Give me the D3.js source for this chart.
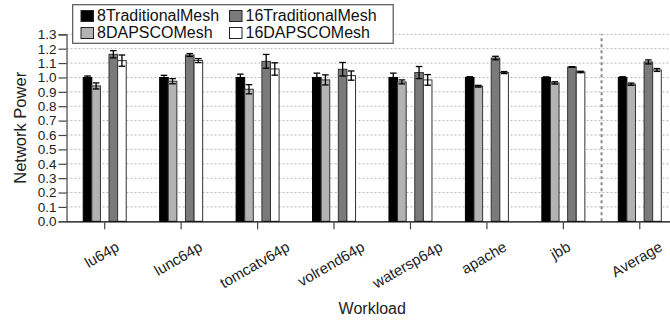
<!DOCTYPE html>
<html>
<head>
<meta charset="utf-8">
<script src="https://cdn.jsdelivr.net/npm/d3@7"></script>
<style>
  html, body { margin: 0; padding: 0; background: #fff; }
  svg { display: block; font-family: "Liberation Sans", Arial, Helvetica, sans-serif; }
</style>
</head>
<body>
<svg id="chart" width="670" height="320"></svg>
<script>
// Workloads along the x axis
const workloads = ["lu64p", "lunc64p", "tomcatv64p", "volrend64p", "watersp64p", "apache", "jbb", "Average"];

// Normalised network power per configuration, with error half-widths
const trad8      = [1.000, 1.000, 1.000, 1.000, 1.000, 1.000, 1.000, 1.000];
const trad8Err   = [0.010, 0.015, 0.023, 0.030, 0.030, 0.005, 0.004, 0.005];
const dapsco8    = [0.941, 0.974, 0.918, 0.983, 0.969, 0.939, 0.962, 0.953];
const dapsco8Err = [0.021, 0.018, 0.032, 0.035, 0.014, 0.006, 0.008, 0.008];
const trad16     = [1.161, 1.156, 1.112, 1.057, 1.034, 1.135, 1.073, 1.108];
const trad16Err  = [0.025, 0.010, 0.048, 0.047, 0.042, 0.012, 0.002, 0.014];
const dapsco16   = [1.117, 1.117, 1.059, 1.013, 0.983, 1.034, 1.038, 1.052];
const dapsco16Err= [0.039, 0.014, 0.043, 0.032, 0.037, 0.007, 0.005, 0.010];

const seriesNames = ["8TraditionalMesh", "8DAPSCOMesh", "16TraditionalMesh", "16DAPSCOMesh"];
const seriesFill  = ["#000000", "#b3b3b3", "#7a7a7a", "#ffffff"];
const yTickValues = [0.0, 0.1, 0.2, 0.3, 0.4, 0.5, 0.6, 0.7, 0.8, 0.9, 1.0, 1.1, 1.2, 1.3];
// legend layout: two rows of two entries
const legendRows = [["8TraditionalMesh", "16TraditionalMesh"], ["8DAPSCOMesh", "16DAPSCOMesh"]];

const series = [
  { name: seriesNames[0], values: trad8,    errs: trad8Err },
  { name: seriesNames[1], values: dapsco8,  errs: dapsco8Err },
  { name: seriesNames[2], values: trad16,   errs: trad16Err },
  { name: seriesNames[3], values: dapsco16, errs: dapsco16Err }
];

const svg = d3.select("#chart");
const plotLeft = 66.5, plotRight = 678, plotTop = 34.3, plotBottom = 221.3;

const x = d3.scaleBand().domain(workloads).range([plotLeft, plotRight]).padding(0);
// five slots per group, the middle one left empty between the 8 and 16 node pairs
const slot = d3.scaleBand()
  .domain([seriesNames[0], seriesNames[1], "gap", seriesNames[2], seriesNames[3]])
  .range([-21.5, 21.5]).padding(0);
const y = d3.scaleLinear().domain([0, 1.3]).range([plotBottom, plotTop]);
const color = d3.scaleOrdinal().domain(seriesNames).range(seriesFill);

// dotted horizontal grid
svg.append("g").selectAll("line")
  .data(yTickValues.filter(v => v > 0))
  .join("line")
  .attr("x1", plotLeft).attr("x2", plotRight)
  .attr("y1", d => y(d)).attr("y2", d => y(d))
  .attr("stroke", "#b8b8b8").attr("stroke-width", 1)
  .attr("stroke-dasharray", "2,2");

// separator before the Average group
const sepX = x("Average");
svg.append("line")
  .attr("x1", sepX).attr("x2", sepX)
  .attr("y1", y(0)).attr("y2", y(1.3))
  .attr("stroke", "#888").attr("stroke-width", 2)
  .attr("stroke-dasharray", "3,3");

// bars
const groups = svg.append("g").selectAll("g")
  .data(workloads)
  .join("g")
  .attr("transform", d => `translate(${x(d) + x.bandwidth() / 2},0)`);

series.forEach(s => {
  groups.append("rect")
    .attr("x", slot(s.name))
    .attr("width", slot.bandwidth())
    .attr("y", (d, i) => y(s.values[i]))
    .attr("height", (d, i) => y(0) - y(s.values[i]))
    .attr("fill", color(s.name))
    .attr("stroke", s.name === seriesNames[0] ? "#000" : "#333")
    .attr("stroke-width", 1);
});

// error bars
series.forEach(s => {
  const cx = slot(s.name) + slot.bandwidth() / 2;
  const eb = groups.append("g").attr("stroke", "#000").attr("stroke-width", 1.3);
  eb.append("line")
    .attr("x1", cx).attr("x2", cx)
    .attr("y1", (d, i) => y(s.values[i] - s.errs[i]))
    .attr("y2", (d, i) => y(s.values[i] + s.errs[i]));
  eb.append("line")
    .attr("x1", cx - 3.3).attr("x2", cx + 3.3)
    .attr("y1", (d, i) => y(s.values[i] + s.errs[i]))
    .attr("y2", (d, i) => y(s.values[i] + s.errs[i]));
  eb.append("line")
    .attr("x1", cx - 3.3).attr("x2", cx + 3.3)
    .attr("y1", (d, i) => y(s.values[i] - s.errs[i]))
    .attr("y2", (d, i) => y(s.values[i] - s.errs[i]));
});

// y axis
const yAxis = svg.append("g")
  .attr("transform", `translate(${plotLeft},0)`)
  .call(d3.axisLeft(y).tickValues(yTickValues).tickFormat(d3.format(".1f")).tickSize(8).tickPadding(2));
yAxis.select(".domain").attr("stroke", "#444").attr("stroke-width", 1.2);
yAxis.selectAll(".tick line").attr("stroke", "#444").attr("stroke-width", 1.2);
yAxis.selectAll(".tick text")
  .attr("font-size", 13.5)
  .attr("font-family", "Liberation Sans, Arial, sans-serif")
  .attr("fill", "#222");

// x axis
const xAxis = svg.append("g")
  .attr("transform", `translate(0,${plotBottom})`)
  .call(d3.axisBottom(x).tickSize(8).tickSizeOuter(0).tickFormat(""));
xAxis.select(".domain").attr("stroke", "#000").attr("stroke-width", 1.3);
xAxis.selectAll(".tick line").attr("stroke", "#444").attr("stroke-width", 1.2);

// tilted workload labels (30 degrees), each box centred below its tick
const labelTop = 238.5;
const labelFs = 15;
const angle = 30 * Math.PI / 180;
const xLabels = svg.append("g").attr("class", "x-labels");
workloads.forEach(name => {
  const t = xLabels.append("text")
    .attr("font-size", labelFs)
    .attr("fill", "#222")
    .attr("text-anchor", "middle")
    .attr("x", 0)
    .attr("y", labelFs * 0.35)
    .text(name);
  const w = t.node().getComputedTextLength();
  const h = labelFs * 1.05;
  const H = w * Math.sin(angle) + h * Math.cos(angle);
  const cx = x(name) + x.bandwidth() / 2 - 3;
  const cy = labelTop + H / 2;
  t.style("transform-origin", "0 0")
   .style("transform", `translate(${cx}px, ${cy}px) rotate(-30deg)`);
});

// axis titles
svg.append("text")
  .attr("x", (plotLeft + plotRight) / 2).attr("y", 314)
  .attr("text-anchor", "middle")
  .attr("font-size", 16).attr("fill", "#222")
  .text("Workload");

svg.append("text")
  .attr("transform", `translate(25.5,${(plotTop + plotBottom) / 2}) rotate(-90)`)
  .attr("text-anchor", "middle")
  .attr("font-size", 16.5).attr("fill", "#222")
  .text("Network Power");

// legend
const lg = svg.append("g");
lg.append("rect")
  .attr("x", 72.7).attr("y", 4.7)
  .attr("width", 320.5).attr("height", 38.6)
  .attr("fill", "#fff").attr("stroke", "#555").attr("stroke-width", 1.2);

const colX = [81, 229.5];
const rowY = [21, 38];
legendRows.forEach((row, r) => {
  row.forEach((name, c) => {
    lg.append("rect")
      .attr("x", colX[c]).attr("y", rowY[r] - 10.5)
      .attr("width", 12.5).attr("height", 11)
      .attr("fill", color(name))
      .attr("stroke", "#222").attr("stroke-width", 1);
    lg.append("text")
      .attr("x", colX[c] + 16).attr("y", rowY[r])
      .attr("font-size", 16).attr("fill", "#111")
      .text(name);
  });
});
</script>
</body>
</html>
